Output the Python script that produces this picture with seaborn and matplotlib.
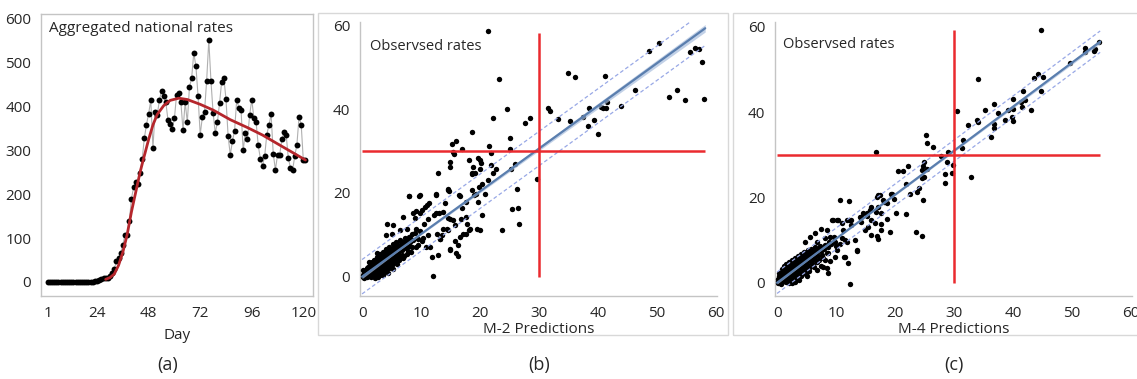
import numpy as np
import pandas as pd
import seaborn as sns
import matplotlib.pyplot as plt
from matplotlib.patches import Rectangle

# ---------------- data ----------------
days = list(range(1, 122))
rates = [
    0, 0, 0, 0, 0, 0, 0, 0, 0, 0,
    0, 0, 0, 0, 0, 0, 0, 0, 0, 1,
    1, 1, 2, 3, 4, 6, 8, 10, 10, 13,
    20, 30, 47, 55, 66, 85, 108, 108, 138, 190,
    216, 227, 224, 249, 280, 328, 359, 384, 414, 306,
    387, 381, 414, 436, 425, 410, 369, 360, 349, 373,
    427, 431, 410, 346, 410, 364, 445, 464, 522, 492,
    424, 336, 376, 388, 459, 551, 459, 386, 340, 364,
    408, 457, 465, 417, 332, 290, 321, 345, 416, 397,
    393, 300, 340, 325, 380, 416, 373, 365, 312, 281,
    265, 287, 336, 358, 382, 292, 256, 290, 290, 325,
    341, 336, 283, 260, 255, 287, 313, 376, 359, 277,
    277]

curve_days = [28, 30, 32, 34, 36, 38, 40, 42, 44, 46, 48, 50, 52, 55, 58,
              62, 66, 72, 78, 86, 94, 101, 108, 114, 121]
curve_vals = [6, 10, 18, 38, 68, 108, 160, 205, 250, 288, 325, 358, 382, 402, 414,
              419, 416, 405, 392, 370, 352, 335, 315, 298, 278]

# M-2: scattered observations (prediction, observed)
pts_b = [
    (21.3, 58.6), (23.2, 47.3), (34.9, 48.6), (36.2, 47.6), (48.6, 53.8), (50.4, 55.7),
    (55.6, 53.7), (56.5, 54.6), (57.1, 54.3), (57.6, 51.2), (58.0, 42.4), (52.1, 42.9),
    (53.4, 44.5), (54.7, 42.1), (46.3, 44.6), (41.2, 47.9), (43.9, 40.7), (41.6, 41.7),
    (40.9, 40.2), (40.6, 40.5), (41.3, 40.2), (38.5, 40.3), (39.3, 37.5), (37.5, 38.1),
    (35.3, 37.1), (33.3, 37.7), (31.6, 40.2), (31.9, 39.6), (38.3, 36.0), (40.1, 34.0),
    (28.5, 37.9), (27.6, 36.7), (24.6, 40.0), (22.2, 38.0), (18.7, 34.6), (25.1, 33.2),
    (21.6, 31.2), (21.9, 29.6), (25.1, 30.5), (25.9, 27.0), (25.3, 25.6), (29.6, 23.3),
    (26.2, 21.0), (25.5, 16.1), (26.5, 16.4), (26.6, 12.5), (23.8, 11.1), (16.0, 32.5),
    (15.2, 31.6), (16.9, 30.6), (15.4, 29.8), (15.6, 29.4), (14.9, 27.4), (14.9, 26.2),
    (12.9, 24.8), (18.1, 27.9), (19.6, 28.3), (20.0, 27.8), (20.2, 27.1), (18.8, 26.2),
    (18.7, 24.8), (19.1, 24.7), (20.0, 25.8), (21.8, 26.6), (22.2, 24.8), (22.8, 25.8),
    (21.4, 23.0), (19.9, 21.4), (20.3, 22.1), (20.8, 19.8), (19.4, 19.7), (18.7, 20.8),
    (17.7, 17.9), (16.5, 19.4), (14.6, 20.8), (14.7, 20.5), (12.5, 19.6), (7.9, 19.3),
    (9.7, 19.3), (11.4, 17.5), (10.7, 16.7), (14.1, 17.7), (16.9, 16.3), (16.8, 13.7),
    (17.8, 12.5), (18.3, 11.3), (17.7, 10.3), (20.0, 11.1), (20.3, 14.7), (16.2, 7.5),
    (16.2, 4.9), (14.9, 6.5), (15.7, 8.6), (14.6, 13.9), (15.4, 13.5), (12.6, 15.1),
    (14.4, 11.5), (13.5, 9.9), (13.2, 9.1), (12.8, 5.2), (12.0, 0.2), (10.9, 7.1),
    (18.6, 24.6), (8.0, 19.2), (9.8, 19.5), (12.5, 19.7), (14.6, 20.9), (16.6, 19.3),
    (19.0, 19.5), (19.7, 17.9), (11.0, 17.1), (10.1, 16.0), (9.2, 15.6), (8.7, 15.1),
    (7.0, 14.3), (9.0, 14.0), (9.9, 15.1), (10.5, 12.7), (11.2, 13.7), (12.2, 14.7),
    (13.0, 15.1), (13.8, 15.5), (14.9, 13.7), (15.8, 12.3), (13.8, 11.3), (12.7, 10.3),
    (11.2, 9.9), (13.2, 9.1), (14.5, 11.1), (16.6, 9.5), (17.2, 10.3), (18.2, 11.1),
    (19.5, 11.3), (17.6, 14.3), (4.2, 12.7), (5.3, 12.3), (4.1, 9.9), (5.0, 10.3),
    (6.4, 11.1), (7.6, 11.5), (8.4, 10.3), (9.2, 11.5), (7.0, 8.4), (8.1, 8.2),
    (9.5, 7.6), (10.4, 9.2), (11.5, 7.2), (14.9, 6.4), (11.8, 4.8), (16.0, 5.6),
    (6.4, 6.4),
    # dense cloud near the origin
    (0.1, 0.0), (0.3, 0.6), (0.5, 0.1), (0.6, 1.2), (0.8, 0.4), (0.9, 2.0), (1.0, 1.0),
    (1.2, 0.2), (1.3, 2.8), (1.4, 1.6), (1.5, 0.7), (1.7, 3.4), (1.8, 2.3), (1.9, 1.2),
    (2.0, 0.3), (2.1, 4.1), (2.2, 3.0), (2.3, 1.9), (2.4, 0.8), (2.6, 4.7), (2.7, 3.6),
    (2.8, 2.5), (2.9, 1.4), (3.0, 0.4), (3.1, 5.4), (3.2, 4.2), (3.3, 3.1), (3.4, 2.0),
    (3.5, 1.0), (3.6, 6.0), (3.7, 4.9), (3.8, 3.8), (3.9, 2.7), (4.0, 1.6), (4.1, 6.6),
    (4.2, 5.5), (4.3, 4.4), (4.4, 3.3), (4.5, 2.2), (4.6, 7.2), (4.7, 6.1), (4.8, 5.0),
    (4.9, 3.9), (5.0, 2.8), (5.2, 7.8), (5.3, 6.7), (5.4, 5.6), (5.5, 4.5), (5.6, 3.4),
    (5.8, 8.3), (5.9, 7.2), (6.0, 6.1), (6.1, 5.0), (6.2, 3.9), (6.5, 8.8), (6.6, 7.6),
    (6.7, 6.4), (6.8, 5.2), (7.0, 4.4), (7.2, 9.3), (7.3, 8.0), (7.4, 6.8), (7.6, 5.5),
    (7.9, 9.6), (8.0, 7.4), (8.3, 6.0), (8.6, 8.8), (8.9, 10.5), (9.2, 7.2), (0.2, 1.6),
    (1.1, 3.5), (2.5, 5.6), (0.4, -0.2), (1.6, -0.1), (2.7, 0.0),
    (0.2, 0.3), (0.4, 1.0), (0.7, 0.8), (0.7, 1.7), (1.0, 2.4), (1.1, 0.6), (1.2, 1.4),
    (1.4, 2.2), (1.5, 3.1), (1.6, 1.0), (1.8, 1.7), (1.9, 2.9), (2.0, 3.7), (2.1, 0.9),
    (2.3, 2.5), (2.4, 3.4), (2.5, 1.4), (2.6, 4.2), (2.8, 3.0), (2.9, 4.9), (3.0, 2.0),
    (3.1, 1.0), (3.3, 3.7), (3.4, 5.0), (3.5, 2.6), (3.6, 4.4), (3.7, 1.6), (3.8, 5.6),
    (4.0, 3.2), (4.1, 4.9), (4.2, 2.3), (4.3, 6.0), (4.5, 3.9), (4.6, 5.5), (4.7, 2.8),
    (4.8, 6.7), (5.0, 4.4), (5.1, 6.1), (5.2, 3.3), (5.4, 7.3), (5.5, 5.0), (5.7, 6.3),
    (5.8, 4.0), (6.0, 7.6), (6.1, 5.6), (6.3, 6.9), (6.4, 4.5), (6.6, 8.2), (6.9, 6.8),
    (7.1, 5.0), (7.2, 7.5), (7.6, 8.6), (7.8, 6.2), (8.2, 9.2), (8.4, 7.0), (9.5, 9.0),
    (9.8, 11.0), (10.2, 8.5), (3.5, 0.3), (4.4, 1.0), (5.2, 1.8), (0.9, -0.1), (2.2, -0.2),
    (6.0, 3.0),
]

# M-4: scattered observations (prediction, observed)
pts_c = [
    (44.8, 59.2), (54.6, 56.3), (53.9, 54.8), (53.7, 54.4), (52.3, 54.9), (52.3, 54.1),
    (49.7, 51.6), (45.1, 48.1), (44.2, 48.9), (43.6, 48.0), (44.8, 44.9), (41.7, 44.9),
    (42.1, 42.8), (41.3, 42.3), (40.0, 43.1), (41.5, 41.1), (43.0, 40.5), (40.0, 40.8),
    (39.1, 40.5), (38.7, 38.2), (39.8, 38.8), (40.0, 38.0), (37.4, 39.8), (36.8, 42.0),
    (36.8, 37.3), (36.8, 36.2), (36.3, 34.2), (35.2, 40.5), (33.9, 38.1), (34.0, 47.7),
    (34.0, 37.7), (32.3, 36.9), (31.5, 33.4), (31.3, 31.5), (30.5, 40.3), (32.9, 24.8),
    (29.8, 27.6), (29.7, 25.8), (29.0, 30.7), (28.9, 28.4), (28.4, 25.6), (28.5, 23.3),
    (27.8, 29.7), (26.4, 31.8), (25.4, 32.7), (25.3, 34.7), (25.0, 28.2), (24.7, 27.4),
    (24.5, 26.5), (24.7, 24.7), (25.0, 24.8), (24.6, 24.5), (25.5, 26.6), (24.1, 22.1),
    (23.8, 21.3), (24.8, 19.4), (23.6, 11.8), (24.6, 11.0), (21.9, 16.1), (21.4, 26.2),
    (22.2, 27.4), (20.5, 26.3), (22.6, 20.9), (21.8, 23.1), (19.5, 20.9), (19.9, 19.6),
    (20.1, 16.3), (18.6, 18.6), (18.0, 19.4), (17.2, 20.6), (17.0, 20.2), (17.0, 11.0),
    (17.2, 10.2), (18.7, 14.9), (17.7, 16.3), (17.6, 13.7), (16.0, 17.8), (15.8, 17.0),
    (16.7, 16.6), (16.8, 30.7), (15.3, 15.6), (14.5, 16.3), (14.0, 15.5), (14.3, 14.3),
    (15.5, 13.1), (14.9, 12.3), (13.5, 7.5), (12.2, 19.2), (10.6, 19.3), (11.3, 6.1),
    (12.1, 4.7), (12.3, -0.2), (12.6, 14.7), (12.2, 14.7), (9.4, 14.7), (10.2, 14.7),
    (11.2, 12.3), (10.7, 9.2), (11.5, 10.0), (9.8, 6.1), (8.7, 2.3), (7.8, 3.8),
    (17.4, 20.5), (19.4, 20.8), (18.2, 19.0), (17.1, 17.8), (9.5, 14.7), (10.3, 14.8),
    (11.0, 13.9), (11.8, 14.7), (12.6, 13.5), (14.3, 15.5), (15.2, 16.3), (16.0, 14.7),
    (16.6, 13.9), (17.7, 12.3), (19.1, 11.9), (16.0, 11.1), (8.4, 12.3), (7.5, 12.7),
    (6.4, 11.6), (5.6, 10.8), (4.7, 9.6), (6.7, 9.6), (8.1, 10.4), (9.0, 10.8),
    (9.8, 9.6), (11.0, 10.4), (11.8, 9.6), (13.2, 10.0), (13.5, 7.7), (10.1, 7.7),
    (8.7, 6.9), (8.1, 5.4), (9.0, 5.0), (11.5, 6.1), (8.4, 3.5), (7.5, 3.9),
    (6.7, 3.1), (5.0, 1.5),
    # dense cloud near the origin
    (0.1, 0.0), (0.3, 0.7), (0.4, 1.6), (0.5, 0.2), (0.6, 2.4), (0.8, 1.1), (0.9, 3.2),
    (1.0, 0.3), (1.1, 2.0), (1.2, 4.0), (1.3, 1.0), (1.4, 2.9), (1.5, 0.2), (1.6, 4.4),
    (1.7, 1.8), (1.8, 3.6), (1.9, 0.8), (2.0, 2.7), (2.1, 4.8), (2.2, 1.6), (2.3, 3.7),
    (2.4, 0.6), (2.5, 5.3), (2.6, 2.5), (2.7, 4.4), (2.8, 1.4), (2.9, 3.4), (3.0, 5.8),
    (3.1, 2.3), (3.2, 4.6), (3.3, 0.9), (3.4, 3.5), (3.5, 6.2), (3.6, 1.8), (3.7, 5.0),
    (3.8, 2.9), (3.9, 4.1), (4.0, 6.7), (4.1, 1.5), (4.2, 3.6), (4.3, 5.5), (4.4, 2.6),
    (4.5, 7.1), (4.6, 4.4), (4.7, 3.2), (4.8, 6.1), (4.9, 2.0), (5.0, 5.0), (5.2, 7.6),
    (5.3, 3.8), (5.4, 6.4), (5.5, 2.8), (5.6, 5.3), (5.8, 8.0), (5.9, 4.4), (6.0, 6.8),
    (6.2, 3.6), (6.3, 5.8), (6.5, 8.3), (6.7, 7.1), (6.8, 4.9), (7.0, 6.2), (7.2, 8.7),
    (7.5, 7.4), (7.8, 5.8), (8.1, 8.9), (8.4, 7.0), (8.8, 9.5), (0.2, 1.0), (0.7, -0.2),
    (2.0, -0.1), (3.0, 0.2),
    (0.2, 0.4), (0.4, 1.2), (0.6, 0.6), (0.7, 1.9), (0.9, 0.2), (1.0, 2.6), (1.1, 1.4),
    (1.3, 3.4), (1.4, 0.5), (1.5, 2.3), (1.7, 3.0), (1.8, 1.2), (1.9, 4.0), (2.1, 2.1),
    (2.2, 3.2), (2.3, 0.2), (2.4, 4.3), (2.5, 1.9), (2.7, 3.0), (2.8, 5.0), (3.0, 1.6),
    (3.1, 3.9), (3.2, 2.8), (3.4, 5.4), (3.5, 1.2), (3.6, 4.3), (3.8, 2.2), (3.9, 5.8),
    (4.0, 3.4), (4.2, 4.8), (4.3, 2.0), (4.4, 6.3), (4.6, 3.7), (4.7, 5.4), (4.9, 2.6),
    (5.0, 6.8), (5.1, 4.4), (5.3, 5.8), (5.5, 3.4), (5.6, 7.2), (5.8, 5.0), (6.0, 6.1),
    (6.1, 4.2), (6.3, 7.6), (6.5, 5.3), (6.6, 6.5), (6.9, 7.8), (7.1, 5.4), (7.4, 8.2),
    (7.7, 6.6), (8.0, 7.8), (8.6, 8.3), (9.2, 9.0), (9.6, 10.8), (10.0, 8.6), (0.3, 2.3),
    (2.6, -0.1), (3.8, 0.6),
]

# fitted line: slope, intercept, x end, prediction-band half width
fit_b = [1.019, 0.0, 58.2, 4.1]
fit_c = [1.031, 0.0, 54.8, 2.5]
ci_x_b, ci_w_b = [0, 6, 58.2], [0.45, 0.15, 0.9]
ci_x_c, ci_w_c = [0, 6, 54.8], [0.3, 0.1, 0.45]
# red reference cross: level, end of horizontal, end of vertical
cross_b = [30, 58.2, 58.1]
cross_c = [30, 54.8, 59.2]

# ---------------- style ----------------
sns.set_style("white")
plt.rcParams['font.family'] = ['Open Sans', 'DejaVu Sans']
spine_col = '#c4c4c4'

fig = plt.figure(figsize=(11.37, 3.79), dpi=100)

# ---------------- (a) ----------------
ax = fig.add_axes([41 / 1137, 83 / 379, 272 / 1137, 282 / 379])
df_a = pd.DataFrame({'day': days, 'rate': rates})
sns.lineplot(data=df_a, x='day', y='rate', color='#b0b0b0', linewidth=0.8, ax=ax)
sns.scatterplot(data=df_a, x='day', y='rate', color='black', s=18, linewidth=0, ax=ax, zorder=3)
sns.lineplot(x=curve_days, y=curve_vals, color='#b5262c', linewidth=2, ax=ax, zorder=4)
ax.set_xlim(-2.1, 124.5)
ax.set_ylim(-32, 611)
ax.set_xticks([1, 12, 24, 36, 48, 60, 72, 84, 96, 108, 120])
ax.set_xticklabels(['1', '', '24', '', '48', '', '72', '', '96', '', '120'])
ax.set_yticks(range(0, 601, 100))
for s in ax.spines.values():
    s.set_color(spine_col)
    s.set_linewidth(1)
ax.tick_params(direction='out', length=4, width=0.8, color='#909090', labelsize=11, pad=3)
ax.set_xlabel('Day', fontsize=11, labelpad=5)
ax.set_ylabel('')
ax.text(0.03, 0.947, 'Aggregated national rates', transform=ax.transAxes,
        fontsize=11, va='center', ha='left')


def scatter_panel(rect, pts, fit, ci_x, ci_w, cross, ylim, xlabel):
    ax = fig.add_axes(rect)
    df = pd.DataFrame(pts, columns=['pred', 'obs'])
    sns.scatterplot(data=df, x='pred', y='obs', color='black', s=15, linewidth=0, ax=ax, zorder=3)
    slope, icpt, xend, band = fit
    xs = np.linspace(0, xend, 80)
    ys = slope * xs + icpt
    hw = np.interp(xs, ci_x, ci_w)
    ax.fill_between(xs, ys - hw, ys + hw, color='#a9bedd', alpha=0.7, linewidth=0, zorder=4)
    sns.lineplot(x=xs, y=ys, color='#5a7eae', linewidth=1.6, ax=ax, zorder=5)
    for off in (band, -band):
        ax.plot(xs, ys + off, color='#98a8e6', linewidth=0.9, linestyle=(0, (3, 2)), zorder=4)
    lvl, hend, vend = cross
    ax.hlines(lvl, 0, hend, color='#ea2a2f', linewidth=1.8, zorder=6)
    ax.vlines(lvl, 0, vend, color='#ea2a2f', linewidth=1.8, zorder=6)
    ax.set_xlim(-0.35, 60.2)
    ax.set_ylim(*ylim)
    ax.set_xticks(range(0, 61, 10))
    ax.set_yticks(range(0, 61, 20))
    sns.despine(ax=ax)
    for k in ('left', 'bottom'):
        ax.spines[k].set_color(spine_col)
        ax.spines[k].set_linewidth(1)
    ax.tick_params(direction='out', length=4, width=0.8, color='#909090', labelsize=11, pad=3)
    ax.set_xlabel(xlabel, fontsize=11, labelpad=1)
    ax.set_ylabel('')
    return ax


ax_b = scatter_panel([360 / 1137, 83 / 379, 357 / 1137, 274 / 379], pts_b, fit_b,
                     ci_x_b, ci_w_b, cross_b, (-4.6, 60.8), 'M-2 Predictions')
ax_b.text(0.028, 0.912, 'Observsed rates', transform=ax_b.transAxes,
          fontsize=10.5, va='center', ha='left')

ax_c = scatter_panel([775 / 1137, 83 / 379, 357 / 1137, 274 / 379], pts_c, fit_c,
                     ci_x_c, ci_w_c, cross_c, (-3.1, 61.1), 'M-4 Predictions')
ax_c.text(0.022, 0.919, 'Observsed rates', transform=ax_c.transAxes,
          fontsize=10.5, va='center', ha='left')

# panel frames
for x0, x1 in [(318, 728), (733, 1140)]:
    fig.add_artist(Rectangle((x0 / 1137, 44 / 379), (x1 - x0) / 1137, 322 / 379,
                             transform=fig.transFigure, fill=False,
                             edgecolor='#d8d8d8', linewidth=1))

for xc, lab in [(168, '(a)'), (539, '(b)'), (954, '(c)')]:
    fig.text(xc / 1137, 1 - 365 / 379, lab, ha='center', va='center', fontsize=13)

fig.savefig('out.png', dpi=100)
